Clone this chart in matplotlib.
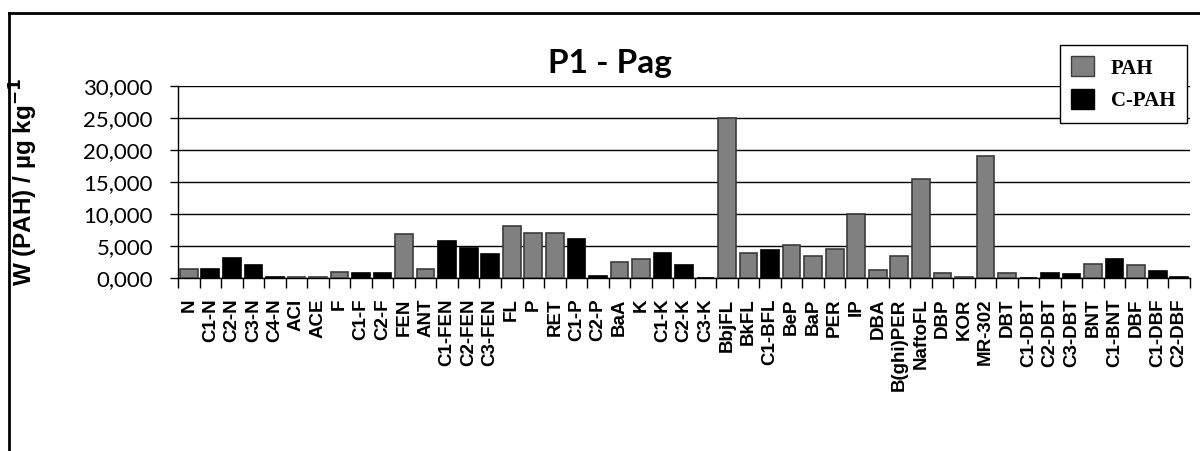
import matplotlib.pyplot as plt
from matplotlib.lines import Line2D
from matplotlib.patches import Patch
from matplotlib.ticker import FixedLocator

compounds = ['N', 'C1-N', 'C2-N', 'C3-N', 'C4-N', 'ACI', 'ACE', 'F', 'C1-F', 'C2-F',
             'FEN', 'ANT', 'C1-FEN', 'C2-FEN', 'C3-FEN', 'FL', 'P', 'RET', 'C1-P', 'C2-P',
             'BaA', 'K', 'C1-K', 'C2-K', 'C3-K', 'BbjFL', 'BkFL', 'C1-BFL', 'BeP', 'BaP',
             'PER', 'IP', 'DBA', 'B(ghi)PER', 'NaftoFL', 'DBP', 'KOR', 'MR-302', 'DBT',
             'C1-DBT', 'C2-DBT', 'C3-DBT', 'BNT', 'C1-BNT', 'DBF', 'C1-DBF', 'C2-DBF']
# values in thousands of ug/kg
values = [1.4, 1.4, 3.1, 1.95, 0.15, 0.15, 0.15, 0.82, 0.8, 0.8,
          6.8, 1.4, 5.7, 4.6, 3.65, 8.1, 6.97, 6.97, 6.0, 0.2,
          2.5, 3.0, 3.8, 1.95, 0.0, 25.0, 3.8, 4.4, 5.05, 3.4,
          4.5, 9.9, 1.2, 3.4, 15.4, 0.8, 0.15, 19.0, 0.8,
          0.0, 0.8, 0.6, 2.1, 2.9, 1.95, 1.0, 0.15]
groups = ['PAH', 'C-PAH', 'C-PAH', 'C-PAH', 'C-PAH', 'PAH', 'PAH', 'PAH', 'C-PAH', 'C-PAH',
          'PAH', 'PAH', 'C-PAH', 'C-PAH', 'C-PAH', 'PAH', 'PAH', 'PAH', 'C-PAH', 'C-PAH',
          'PAH', 'PAH', 'C-PAH', 'C-PAH', 'C-PAH', 'PAH', 'PAH', 'C-PAH', 'PAH', 'PAH',
          'PAH', 'PAH', 'PAH', 'PAH', 'PAH', 'PAH', 'PAH', 'PAH', 'PAH',
          'C-PAH', 'C-PAH', 'C-PAH', 'PAH', 'C-PAH', 'PAH', 'C-PAH', 'C-PAH']
yticks = [0, 5, 10, 15, 20, 25, 30]

face = {'PAH': '#808080', 'C-PAH': '#000000'}
edge = {'PAH': '#3c3c3c', 'C-PAH': '#000000'}

fig = plt.figure(figsize=(12, 4.51), dpi=100)
ax = fig.add_axes([178 / 1200, 1 - 277.7 / 451, (1190 - 178) / 1200, (277.7 - 86) / 451])

xs = list(range(len(compounds)))
ax.bar(xs, values, width=0.82, color=[face[g] for g in groups],
       edgecolor=[edge[g] for g in groups], linewidth=1.2, zorder=3)

ax.set_xlim(-0.5, len(compounds) - 0.5)
ax.set_ylim(0, 30)
ax.set_yticks(yticks)
ax.set_yticklabels([f'{v:.3f}'.replace('.', ',') for v in yticks],
                   fontfamily='Lato', fontsize=16)
ax.yaxis.grid(True, color='black', linewidth=1)
ax.set_axisbelow(True)

ax.set_xticks(xs)
ax.set_xticklabels(compounds, rotation=90, fontfamily='Liberation Sans',
                   fontweight='bold', fontsize=13.5)
ax.xaxis.set_minor_locator(FixedLocator([x + 0.5 for x in range(-1, len(compounds))]))
ax.tick_params(axis='x', which='major', length=0, pad=15)
ax.tick_params(axis='x', which='minor', length=7, width=1, color='black')
ax.tick_params(axis='y', length=6, width=1, pad=12)

for s in ['top', 'right']:
    ax.spines[s].set_visible(False)
ax.spines['left'].set_linewidth(1)
ax.spines['bottom'].set_linewidth(1)

ax.set_ylabel('W (PAH) / µg kg$^{\\mathbf{-1}}$', fontfamily='Liberation Sans',
              fontweight='bold', fontsize=17.5)
ax.yaxis.set_label_coords(-138 / 1012, 0.5)

fig.text(610 / 1200, 1 - 63 / 451, 'P1 - Pag', fontfamily='Lato', fontweight='bold',
         fontsize=24, ha='center', va='center')

handles = [Patch(facecolor=face[g], edgecolor=edge[g], label=g) for g in ['PAH', 'C-PAH']]
leg = fig.legend(handles=handles, loc='upper right', bbox_to_anchor=(1187 / 1200, 1 - 45 / 451),
                 prop={'family': 'Liberation Serif', 'weight': 'bold', 'size': 15},
                 frameon=True, fancybox=False, edgecolor='black', framealpha=1,
                 handlelength=1.1, handleheight=1.1, handletextpad=0.8, borderpad=0.55,
                 labelspacing=0.5, borderaxespad=0)
leg.get_frame().set_linewidth(1)

fig.add_artist(Line2D([9 / 1200, 9 / 1200], [0, 1 - 13 / 451], color='black', linewidth=2,
                      transform=fig.transFigure))
fig.add_artist(Line2D([9 / 1200, 1], [1 - 13 / 451, 1 - 13 / 451], color='black', linewidth=2,
                      transform=fig.transFigure))

fig.savefig('out.png', dpi=100)
